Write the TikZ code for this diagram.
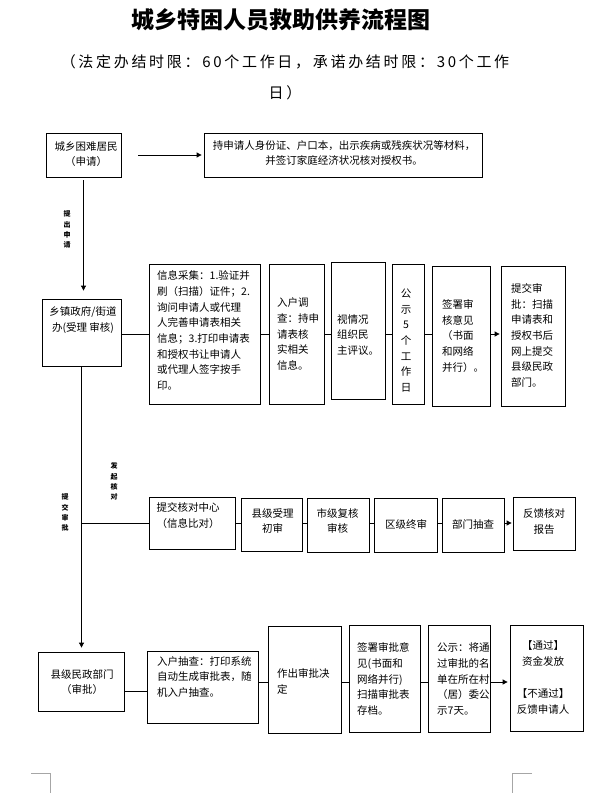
\documentclass[tikz,border=0pt]{standalone}
\usepackage{fontspec}
\setmainfont{Noto Sans CJK SC}
\usetikzlibrary{arrows.meta}

\begin{document}
\begin{tikzpicture}[x=1pt,y=1pt,yscale=-1,xscale=1,
		box/.style={draw,line width=0.8pt,inner sep=0pt},
		txt/.style={inner sep=0pt,align=left,font=\fontsize{10.5}{15.7}\selectfont},
		arr/.style={-{Triangle[length=5pt,width=5pt]},line width=0.8pt},
		conn/.style={line width=0.8pt},
		side/.style={inner sep=0pt,align=center,font=\fontsize{7}{10.3}\selectfont\bfseries},
		cropline/.style={draw=black!35,line width=0.8pt}]
		\useasboundingbox (0,0) rectangle (595,810);

		% Text Node
		\node[inner sep=0pt,font=\fontsize{23}{23}\selectfont\bfseries] (title) at (281,20) {城乡特困人员救助供养流程图};
		% Text Node
		\node[inner sep=0pt,align=center,font=\fontsize{15}{31}\selectfont\addfontfeature{LetterSpace=18}] (limit) at (285,77.5) {（法定办结时限：60个工作日，承诺办结时限：30个工作\\日）};

		%Shape: Rectangle
		\node[box,minimum width=75pt,minimum height=44pt] (apply) at (83.5,155) {};
		%Shape: Rectangle
		\node[box,minimum width=278pt,minimum height=44pt] (docs) at (343,155) {};

		%Shape: Rectangle
		\node[box,minimum width=79pt,minimum height=67pt] (town) at (81.5,332.5) {};
		%Shape: Rectangle
		\node[box,minimum width=111pt,minimum height=140pt] (collect) at (204.5,334) {};
		%Shape: Rectangle
		\node[box,minimum width=55pt,minimum height=140pt] (visit) at (296.5,334) {};
		%Shape: Rectangle
		\node[box,minimum width=54pt,minimum height=137pt] (review) at (358,330.5) {};
		%Shape: Rectangle
		\node[box,minimum width=32pt,minimum height=140pt] (publicA) at (408,334) {};
		%Shape: Rectangle
		\node[box,minimum width=58pt,minimum height=140pt] (sign) at (461,336) {};
		%Shape: Rectangle
		\node[box,minimum width=64pt,minimum height=140pt] (submit) at (533,336) {};

		%Shape: Rectangle
		\node[box,minimum width=86pt,minimum height=52pt] (check) at (192,523) {};
		%Shape: Rectangle
		\node[box,minimum width=61pt,minimum height=53pt] (first) at (271.5,524.5) {};
		%Shape: Rectangle
		\node[box,minimum width=62pt,minimum height=54pt] (city) at (338,525) {};
		%Shape: Rectangle
		\node[box,minimum width=63pt,minimum height=54pt] (final) at (405.5,525) {};
		%Shape: Rectangle
		\node[box,minimum width=62pt,minimum height=54pt] (spotc) at (473,525) {};
		%Shape: Rectangle
		\node[box,minimum width=62pt,minimum height=53pt] (report) at (544,523.5) {};

		%Shape: Rectangle
		\node[box,minimum width=86pt,minimum height=59pt] (county) at (81,681.5) {};
		%Shape: Rectangle
		\node[box,minimum width=111pt,minimum height=72pt] (spot) at (202.5,687) {};
		%Shape: Rectangle
		\node[box,minimum width=73pt,minimum height=107pt] (decide) at (304.5,679.5) {};
		%Shape: Rectangle
		\node[box,minimum width=71pt,minimum height=107pt] (archive) at (384.5,678.5) {};
		%Shape: Rectangle
		\node[box,minimum width=62pt,minimum height=107pt] (publicB) at (459,678.5) {};
		%Shape: Rectangle
		\node[box,minimum width=73pt,minimum height=106pt] (result) at (546.5,678) {};

		\coordinate (rowa) at (0,691);
		\coordinate (rowb) at (0,682);

		%Straight Lines
		\draw[arr,shorten <=17pt,shorten >=2pt] (apply) -- (docs);
		%Straight Lines
		\draw[arr,shorten <=3pt,shorten >=8pt] (apply.south) -- (apply.south |- town.north);
		\draw[conn] (town.east |- collect.west) -- (collect.west);
		\draw[conn] (collect.east) -- (collect.east -| visit.west);
		\draw[conn] (visit.east) -- (visit.east -| review.west);
		\draw[conn] (publicA.west -| review.east) -- (publicA.west);
		\draw[conn] (publicA.east) -- (publicA.east -| sign.west);
		\draw[arr,shorten >=1pt] (publicA.east -| sign.east) -- (publicA.east -| submit.west);
		%Straight Lines
		\draw[arr,shorten >=4pt] (town.south) -- (town.south |- county.north);
		\draw[conn] (town.south |- check.west) -- (check.west);
		\draw[conn] (check.east) -- (check.east -| first.west);
		\draw[conn] (check.east -| first.east) -- (check.east -| city.west);
		\draw[conn] (check.east -| city.east) -- (check.east -| final.west);
		\draw[conn] (check.east -| final.east) -- (check.east -| spotc.west);
		\draw[arr,shorten >=1pt] (check.east -| spotc.east) -- (check.east -| report.west);
		%Straight Lines
		\draw[conn] (county.east |- rowa) -- (spot.west |- rowa);
		\draw[conn] (spot.east |- rowb) -- (decide.west |- rowb);
		\draw[conn] (decide.east |- rowb) -- (archive.west |- rowb);
		\draw[conn] (archive.east |- rowb) -- (publicB.west |- rowb);
		\draw[arr,shorten >=2pt] (publicB.east |- rowb) -- (result.west |- rowb);

		% Text Node
		\node[txt,align=center] (applyT) at (86,154) {城乡困难居民\\（申请）};
		% Text Node
		\node[txt,align=center] (docsT) at (344,153) {持申请人身份证、户口本，出示疾病或残疾状况等材料，\\并签订家庭经济状况核对授权书。};
		% Text Node
		\node[txt,align=center] (townT) at (83,320) {乡镇政府/街道\\办(受理 审核)};
		% Text Node
		\node[txt,anchor=west] (collectT) at (157,330.5) {信息采集：1.验证并\\刷（扫描）证件；2.\\询问申请人或代理\\人完善申请表相关\\信息；3.打印申请表\\和授权书让申请人\\或代理人签字按手\\印。};
		% Text Node
		\node[txt,anchor=west] (visitT) at (277,334) {入户调\\查：持申\\请表核\\实相关\\信息。};
		% Text Node
		\node[txt,anchor=west] (reviewT) at (337,335) {视情况\\组织民\\主评议。};
		% Text Node
		\node[txt,align=center] (publicAT) at (406,340.5) {公\\示\\5\\个\\工\\作\\日};
		% Text Node
		\node[txt,anchor=west] (signT) at (442,336) {签署审\\核意见\\（书面\\和网络\\并行）。};
		% Text Node
		\node[txt,anchor=west] (submitT) at (511,335.5) {提交审\\批：扫描\\申请表和\\授权书后\\网上提交\\县级民政\\部门。};

		% Text Node
		\node[txt,align=center] (checkT) at (188,515.5) {提交核对中心\\（信息比对）};
		% Text Node
		\node[txt,align=center] (firstT) at (272.5,521) {县级受理\\初审};
		% Text Node
		\node[txt,align=center] (cityT) at (337.5,521) {市级复核\\审核};
		% Text Node
		\node[txt] (finalT) at (406,524) {区级终审};
		% Text Node
		\node[txt] (spotcT) at (473,524) {部门抽查};
		% Text Node
		\node[txt,align=center] (reportT) at (544,521.5) {反馈核对\\报告};

		% Text Node
		\node[txt,align=center] (countyT) at (82,682) {县级民政部门\\（审批）};
		% Text Node
		\node[txt,anchor=west] (spotT) at (157,677) {入户抽查：打印系统\\自动生成审批表，随\\机入户抽查。};
		% Text Node
		\node[txt,anchor=west] (decideT) at (277,681.5) {作出审批决\\定};
		% Text Node
		\node[txt,anchor=west] (archiveT) at (357,679) {签署审批意\\见(书面和\\网络并行)\\扫描审批表\\存档。};
		% Text Node
		\node[txt,anchor=west] (publicBT) at (437,679) {公示：将通\\过审批的名\\单在所在村\\（居）委公\\示7天。};
		% Text Node
		\node[txt,align=center] (resultT) at (543,677.5) {【通过】\\资金发放\\[16pt]【不通过】\\反馈申请人};

		% Text Node
		\node[side] (askT) at (67,229.5) {提\\出\\申\\请};
		% Text Node
		\node[side] (passT) at (65,512.5) {提\\交\\审\\批};
		% Text Node
		\node[side] (startT) at (114,481.5) {发\\起\\核\\对};

		%Straight Lines
		\draw[cropline] (31,773) -- (50,773) -- (50,793);
		\draw[cropline] (532,773) -- (512,773) -- (512,793);

	\end{tikzpicture}
\end{document}
